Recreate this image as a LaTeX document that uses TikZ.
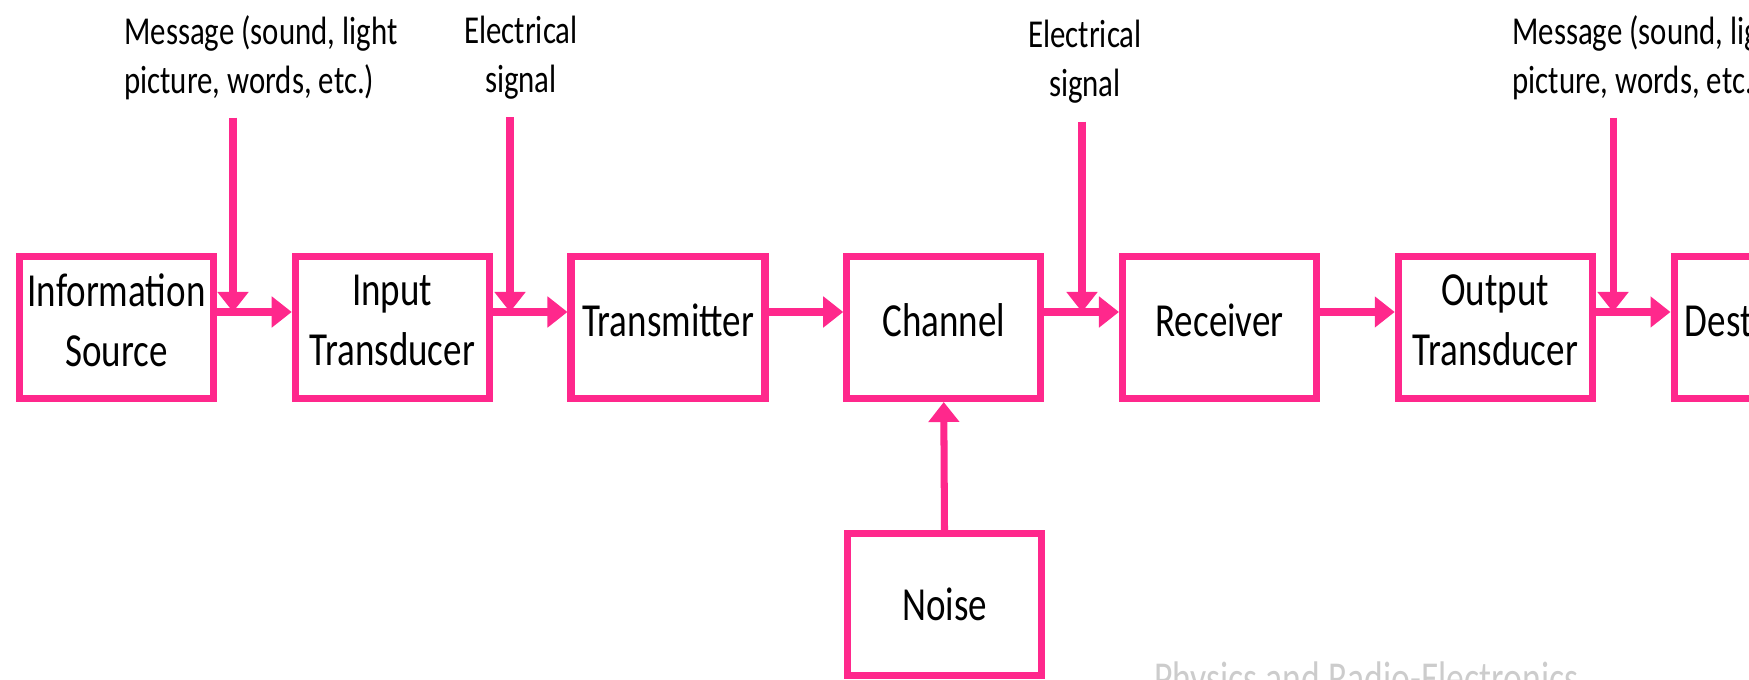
\documentclass[tikz,border=0pt]{standalone}
\usepackage{fontspec}
\setmainfont{Carlito}[FakeStretch=0.78]
\usetikzlibrary{arrows.meta}
\definecolor{blockpink}{RGB}{255,40,140}

\begin{document}
\begin{tikzpicture}[
    block/.style={draw=blockpink, line width=4pt, minimum width=3.88cm, minimum height=2.84cm,
        inner sep=0pt, text depth=0.3cm, align=center, font=\fontsize{27}{34}\selectfont},
    sig/.style={blockpink, line width=4pt, -{Triangle[length=0.4cm, width=0.6cm]}},
    lbl/.style={inner sep=0pt, font=\fontsize{22.5}{28}\selectfont}]
        \useasboundingbox (0,0) rectangle (34.98,13.6);
        \clip (0,0) rectangle (34.98,13.6);

        % Blocchi
        \node[block] (src) at (2.33,7.05) {Information\\Source};
        \node[block] (inp) at (7.845,7.05) {Input\\Transducer};
        \node[block] (tx) at (13.36,7.05) {Transmitter};
        \node[block] (chan) at (18.875,7.05) {Channel};
        \node[block] (rx) at (24.39,7.05) {Receiver};
        \node[block] (outp) at (29.905,7.05) {Output\\Transducer};
        \node[block] (dest) at (35.42,7.05) {Destination};
        \node[block, text depth=0pt] (noise) at (18.89,1.51) {Noise};

        % Etichette dei segnali
        \node[lbl, anchor=west, align=left] (msgin) at (2.48,12.45) {Message (sound, light\\picture, words, etc.)};
        \node[lbl, align=center] (elin) at (10.42,12.45) {Electrical\\signal};
        \node[lbl, align=center] (elout) at (21.7,12.36) {Electrical\\signal};
        \node[lbl, anchor=west, align=left] (msgout) at (30.24,12.45) {Message (sound, light\\picture, words, etc.)};

        % Punti di innesto
        \coordinate (j1) at (4.66,7.36);
        \coordinate (j2) at (10.2,7.36);
        \coordinate (j3) at (21.64,7.36);
        \coordinate (j4) at (32.26,7.36);

        % Catena principale
        \draw[sig] ([yshift=0.31cm]src.east) -- ([yshift=0.31cm]inp.west);
        \draw[sig] ([yshift=0.31cm]inp.east) -- ([yshift=0.31cm]tx.west);
        \draw[sig] ([yshift=0.31cm]tx.east) -- ([yshift=0.31cm]chan.west);
        \draw[sig] ([yshift=0.31cm]chan.east) -- ([yshift=0.31cm]rx.west);
        \draw[sig] ([yshift=0.31cm]rx.east) -- ([yshift=0.31cm]outp.west);
        \draw[sig] ([yshift=0.31cm]outp.east) -- ([yshift=0.31cm]dest.west);

        % Frecce verticali
        \draw[sig, shorten <=0.35cm] (msgin.south -| j1) -- (j1);
        \draw[sig, shorten <=0.35cm] (elin.south -| j2) -- (j2);
        \draw[sig, shorten <=0.35cm] (elout.south -| j3) -- (j3);
        \draw[sig, shorten <=0.35cm] (msgout.south -| j4) -- (j4);

        % Rumore
        \draw[sig] (noise.north) -- (chan.south);

        \node[anchor=base west, inner sep=0pt, text=black!20, font=\fontsize{26}{30}\selectfont] (mark) at (23.08,-0.28) {Physics and Radio-Electronics};
    \end{tikzpicture}
\end{document}
